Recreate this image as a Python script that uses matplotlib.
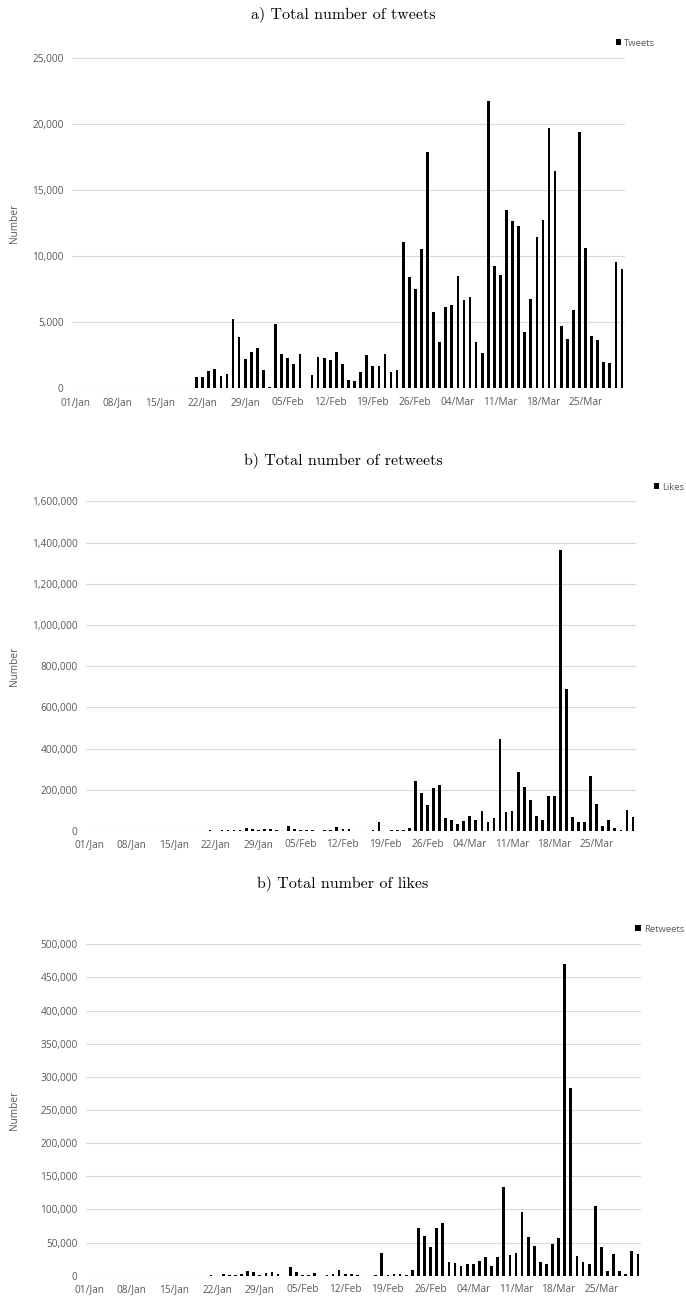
import matplotlib
matplotlib.use("Agg")
import matplotlib.pyplot as plt
import pandas as pd
from matplotlib.ticker import FuncFormatter

# ---- data -------------------------------------------------------------
dates = pd.date_range("2020-01-01", "2020-03-31", freq="D")
day_labels = [d.strftime("%d/%b") for d in dates]

tweets = [0] * 19 + [
    50, 830, 850, 1290, 1490, 910, 1060, 5250, 3860, 2200,
    2750, 3030, 1410, 100, 4870, 2580, 2270, 1840, 2580, 0,
    1040, 2350, 2270, 2150, 2780, 1840, 660, 560, 1210, 2530,
    1720, 1670, 2580, 1210, 1390, 11110, 8430, 7550, 10530, 17850,
    5810, 3490, 6190, 6310, 8510, 6670, 6920, 3510, 2700, 21720,
    9290, 8560, 13480, 12680, 12250, 4290, 6790, 11460, 12730, 19720,
    16410, 4750, 3740, 5910, 19390, 10630, 3940, 3690, 2000, 1950,
    9550, 9020]

likes = [0] * 20 + [
    3000, 0, 3000, 3000, 3000, 5000, 16000, 11000, 6500, 8000,
    8000, 5000, 0, 23000, 10000, 5000, 5000, 4000, 0, 3000,
    6500, 17000, 8000, 8000, 0, 0, 0, 3000, 43000, 0,
    5000, 6500, 4000, 14000, 244000, 184000, 127000, 208000, 222000, 62000,
    52000, 32000, 49000, 71000, 54000, 95000, 46000, 62000, 445000, 90000,
    95000, 284000, 215000, 150000, 74000, 53000, 171000, 170000, 1365000, 688000,
    67000, 44000, 46000, 265000, 131000, 24000, 53000, 15000, 5000, 101000,
    70000]

retweets = [0] * 20 + [
    1500, 0, 2000, 1000, 1000, 2000, 7500, 6000, 1500, 4500,
    5000, 2500, 0, 12600, 5500, 1500, 1000, 3500, 0, 1000,
    2000, 9000, 3000, 2500, 1000, 0, 0, 1000, 35000, 1000,
    2000, 2000, 1500, 8500, 71700, 60000, 44000, 71700, 80000, 20000,
    18700, 15000, 17000, 18000, 22000, 28000, 14000, 27800, 134000, 31000,
    35000, 95500, 58500, 45000, 21000, 17500, 48500, 57500, 471000, 283000,
    30000, 20000, 17500, 105000, 43000, 7500, 33000, 6500, 2500, 37000,
    33000]

panel_titles = ["a) Total number of tweets",
                "b) Total number of retweets",
                "b) Total number of likes"]
series_names = ["Tweets", "Likes", "Retweets"]
y_max = [25000, 1600000, 500000]
y_step = [5000, 200000, 50000]

# ---- layout -----------------------------------------------------------
W, H = 686, 1299
fig = plt.figure(figsize=(W / 100, H / 100), dpi=100)

def fx(px):
    return px / W

def fy(py):
    return 1 - py / H

# (left, right, top, bottom) in pixel coords
boxes = [(72, 625, 58, 388.3), (86, 636, 501.3, 831), (86, 641, 944.3, 1275.7)]
title_y = [14, 460, 883]
legend_pos = [(655, 43), (684, 487), (684, 929)]

grey = "#595959"
grid = "#d9d9d9"
tick_font = "Open Sans"

values = [tweets, likes, retweets]
x = list(range(len(dates)))

for k in range(3):
    l, r, t, b = boxes[k]
    ax = fig.add_axes([fx(l), fy(b), fx(r - l), (b - t) / H])
    ax.bar(x, values[k], width=0.45, color="black", label=series_names[k], zorder=3)
    ax.set_xlim(-0.5, len(dates) - 0.5)
    ax.set_ylim(0, y_max[k])
    ax.set_yticks(range(0, y_max[k] + 1, y_step[k]))
    ax.yaxis.set_major_formatter(FuncFormatter(lambda v, p: f"{v:,.0f}"))
    ax.set_xticks(x[::7])
    ax.set_xticklabels(day_labels[::7])
    ax.grid(axis="y", color=grid, linewidth=0.8, zorder=0)
    for s in ax.spines.values():
        s.set_visible(False)
    ax.tick_params(length=0, labelsize=7.3, colors=grey)
    ax.tick_params(axis="x", pad=6)
    ax.tick_params(axis="y", pad=6)
    for lab in ax.get_xticklabels() + ax.get_yticklabels():
        lab.set_fontfamily(tick_font)
    ax.set_ylabel("Number", fontsize=7.3, color=grey, fontfamily=tick_font)
    ax.yaxis.set_label_coords(fx(20 - l) / fx(r - l), 0.5)

    fig.text(0.5, fy(title_y[k]), panel_titles[k], ha="center", va="center",
             fontsize=11.5, fontfamily="cmr10")

    lx, ly = legend_pos[k]
    leg = ax.legend(loc="center right", bbox_to_anchor=(fx(lx), fy(ly)),
                    bbox_transform=fig.transFigure, frameon=False,
                    handlelength=0.6, handleheight=0.6, handletextpad=0.3,
                    borderpad=0, borderaxespad=0,
                    prop={"family": tick_font, "size": 6.8})
    for txt in leg.get_texts():
        txt.set_color(grey)

fig.savefig("out.png", dpi=100)
